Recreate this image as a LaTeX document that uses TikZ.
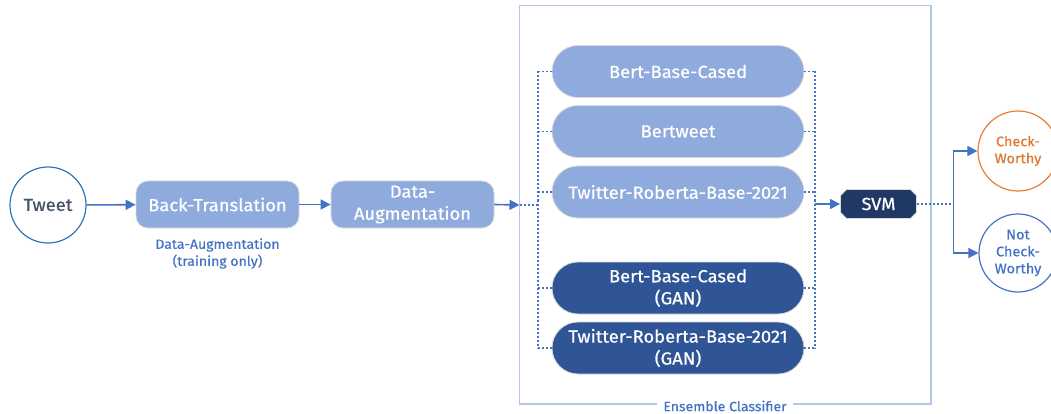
\documentclass[tikz,border=0pt]{standalone}
\usepackage{fontspec}
\setmainfont{Fira Sans}[FakeStretch=1.05, FakeBold=0.6]
\usetikzlibrary{arrows.meta,shapes.misc}
\definecolor{pillA}{HTML}{8FAADC}
\definecolor{pillB}{HTML}{2F5597}
\definecolor{navy}{HTML}{203864}
\definecolor{link}{HTML}{4472C4}
\definecolor{frameC}{HTML}{B4C7E7}
\definecolor{tweetC}{HTML}{2E75B6}
\definecolor{tweetT}{HTML}{44546A}
\definecolor{orangeC}{HTML}{ED7D31}
\definecolor{orangeT}{HTML}{E07830}
\newcommand{\mainsize}{\fontsize{17.5}{22}\selectfont}
\newcommand{\notesize}{\fontsize{13.4}{17}\selectfont}
\newcommand{\circsize}{\fontsize{13.8}{17}\selectfont}
\tikzset{
  flow/.style={draw=link, line width=1.6pt, -{Triangle[length=10pt,width=10pt]}},
  dots/.style={draw=link, line width=1.5pt, dash pattern=on 2pt off 2pt},
  boxA/.style={rectangle, rounded corners=12pt, fill=pillA, draw=black!15, line width=0.8pt,
    minimum width=163pt, minimum height=47pt, text=white, font=\mainsize, align=center, inner sep=0pt},
  pill/.style={rounded rectangle, fill=pillA, draw=black!15, line width=0.8pt,
    minimum width=252pt, minimum height=52pt, text=white, font=\mainsize, align=center, inner sep=0pt},
  pilldark/.style={pill, fill=pillB},
  circ/.style={circle, fill=white, line width=1.2pt, align=center, inner sep=0pt},
}
\begin{document}
\begin{tikzpicture}[x=1pt,y=-1pt]
\useasboundingbox (0,0) rectangle (1051,414);

% ensemble frame
\draw[frameC, line width=1.5pt] (519.5,5.5) rectangle (931,404);
\node[fill=white, text=link, font=\notesize, inner xsep=6pt, inner ysep=1pt] (ens) at (725,406) {Ensemble Classifier};

% input side
\node[circ, draw=tweetC, text=tweetT, minimum size=76pt, font=\mainsize] (tweet) at (48,205) {Tweet};
\node[boxA] (bt) at (217.5,204.5) {Back-Translation};
\node[text=link, font=\notesize, align=center] (btlabel) at (217.5,253.5) {Data-Augmentation\\(training only)};
\node[boxA] (da) at (412.5,204.5) {Data-\\Augmentation};

% base classifiers
\node[pill] (m1) at (678,71.5) {Bert-Base-Cased};
\node[pill] (m2) at (678,131.5) {Bertweet};
\node[pill] (m3) at (678,192) {Twitter-Roberta-Base-2021};
\node[pilldark] (m4) at (678,288) {Bert-Base-Cased\\(GAN)};
\node[pilldark] (m5) at (678,348) {Twitter-Roberta-Base-2021\\(GAN)};

% meta classifier
\node[chamfered rectangle, chamfered rectangle xsep=3pt, chamfered rectangle ysep=3pt,
  fill=navy, draw=black!15, line width=0.8pt, text=white, font=\mainsize,
  minimum width=76pt, minimum height=29pt, inner sep=0pt] (svm) at (878.5,204) {SVM};

% outputs
\node[circ, draw=orangeC, text=orangeT, minimum size=80pt, font=\circsize] (cw) at (1018,151) {Check-\\Worthy};
\node[circ, draw=link, text=link, minimum size=78pt, font=\circsize] (ncw) at (1018,253) {Not\\Check-\\Worthy};

% bus points
\coordinate (fin) at (519.5,205);
\coordinate (lin) at (538,205);
\coordinate (ltop) at (538,71.5);
\coordinate (lbot) at (538,348);
\coordinate (rtop) at (815,71.5);
\coordinate (rbot) at (815,348);
\coordinate (rout) at (815,204);
\coordinate (split) at (953.5,204);

% connectors
\draw[flow] (tweet) -- (bt);
\draw[flow] (bt) -- (da);
\draw[flow] (da.east) -- (fin);
\draw[dots] (fin) -- (lin);
\draw[dots] (ltop) -- (lbot);
\draw[dots] (rtop) -- (rbot);
\foreach \m in {m1,m2,m3,m4,m5}{
  \draw[dots] (\m.west) -- (\m.west -| ltop);
  \draw[dots] (\m.east) -- (\m.east -| rtop);
}
\draw[flow] (rout) -- (svm.west);
\draw[dots] (svm.east) -- (split);
\draw[flow] (split) |- (cw.west);
\draw[flow] (split) |- (ncw.west);
\end{tikzpicture}
\end{document}
